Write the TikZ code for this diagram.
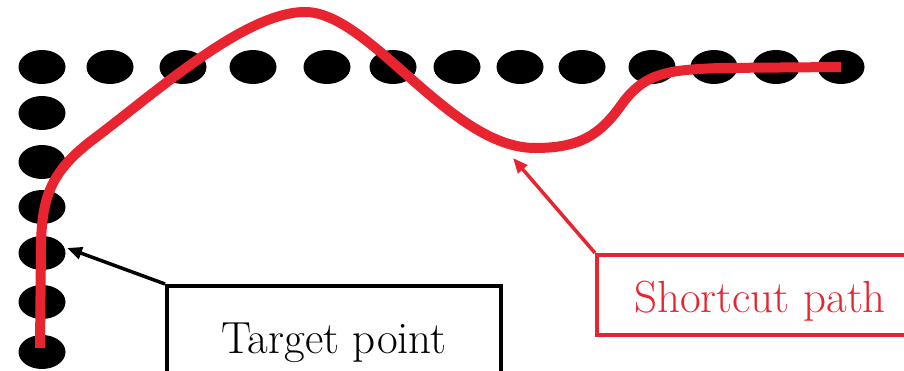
\documentclass[tikz,border=0pt]{standalone}
\usetikzlibrary{arrows.meta}
\definecolor{pathred}{RGB}{232,36,48}
\begin{document}
\begin{tikzpicture}[x=1pt,y=-1pt,
  dotshape/.style={fill=black},
  route/.style={draw=pathred,line width=10pt},
  labelfont/.style={font=\fontsize{45}{52}\selectfont},
  tgtbox/.style={draw=black,line width=4pt,inner sep=0pt,minimum width=334pt,
    text height=67pt,text depth=35pt,anchor=base,labelfont},
  scbox/.style={draw=pathred,line width=4pt,text=pathred,inner sep=0pt,minimum width=326pt,
    text height=57pt,text depth=23pt,anchor=base,labelfont},
  tgtarrow/.style={draw=black,line width=3.5pt,-{Triangle[length=15pt,width=12pt]}},
  scarrow/.style={draw=pathred,line width=3.5pt,-{Triangle[length=15pt,width=12pt]}}
]
\useasboundingbox (0,0) rectangle (904,371);
\clip (0,0) rectangle (904,371);

% dots: top row
\foreach \x in {42,110,183,253,327,393,457,520,582,652,714,776,841}
  \fill[dotshape] (\x,67) ellipse [x radius=23.5pt, y radius=17pt];
% dots: left column
\foreach \y in {113,162,207,253,302,352}
  \fill[dotshape] (42,\y) ellipse [x radius=23.5pt, y radius=17pt];

% shortcut path
\draw[route] (40,348) -- (41,245) .. controls (42,195) and (52,170) .. (95,138)
  .. controls (155,93) and (245,12) .. (305,12)
  .. controls (370,12) and (450,148) .. (535,148)
  .. controls (580,148) and (600,135) .. (622,104)
  .. controls (645,72) and (670,70) .. (720,68) -- (841,67);

% labels
\node[tgtbox] (tgt) at (334,353) {Target point};
\node[scbox] (sc) at (760,312) {Shortcut path};

\coordinate (tgttip) at (67,248);
\coordinate (sctip) at (513,158);
\draw[tgtarrow] (tgt.north west) -- (tgttip);
\draw[scarrow] (sc.north west) -- (sctip);
\end{tikzpicture}
\end{document}
